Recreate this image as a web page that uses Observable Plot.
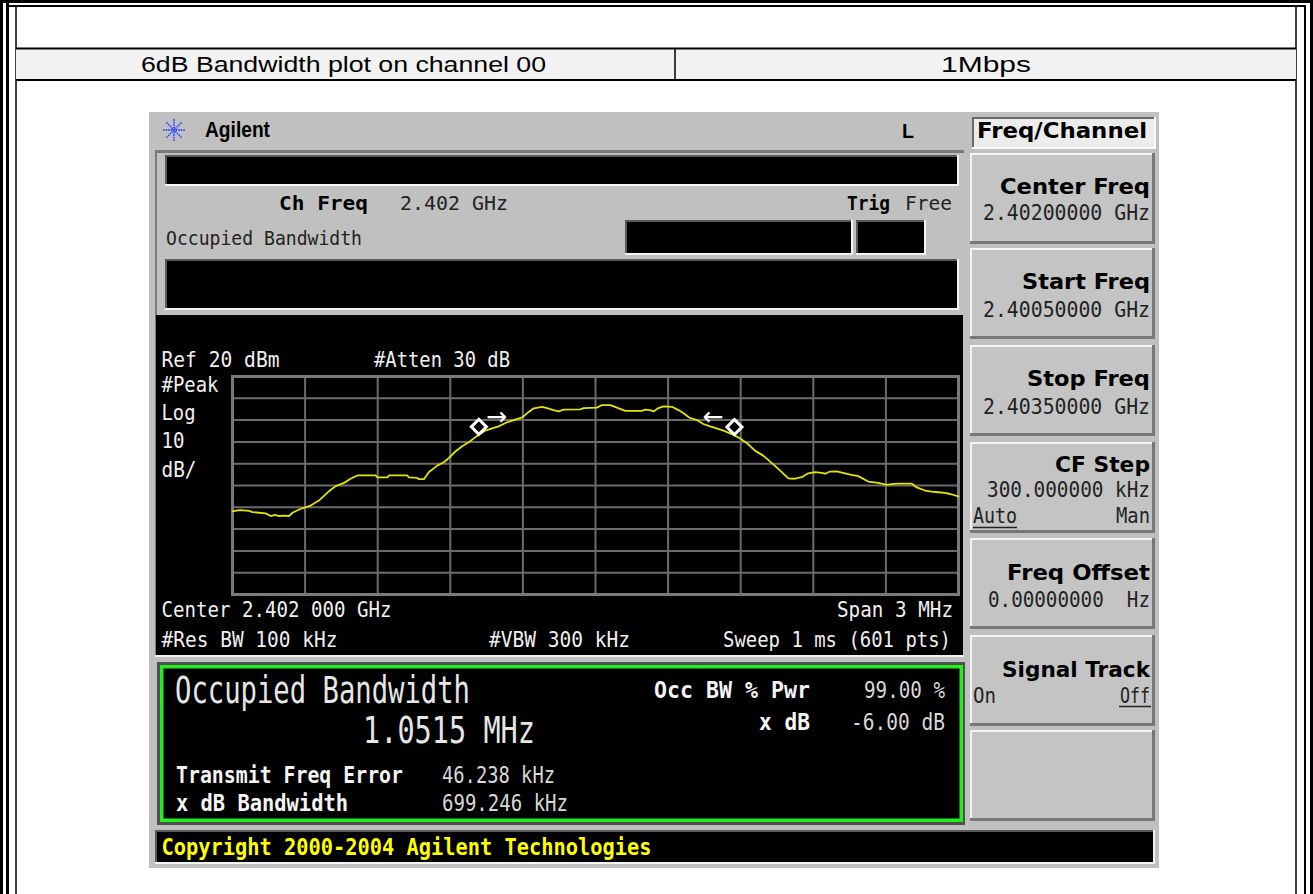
<!DOCTYPE html>
<html><head><meta charset="utf-8">
<script src="https://cdn.jsdelivr.net/npm/d3@7"></script>
<script src="https://cdn.jsdelivr.net/npm/@observablehq/plot@0.6"></script>
<style>
html,body{margin:0;padding:0;background:#fff;}
#root{position:relative;width:1313px;height:894px;overflow:hidden;background:#fff;}
#bg,#fg{position:absolute;left:0;top:0;}
#plot{position:absolute;left:156px;top:315px;}
#fg{pointer-events:none;}
</style></head><body>
<div id="root"><svg id="bg" width="1313" height="894"></svg><div id="plot"></div><svg id="fg" width="1313" height="894"></svg></div>
<script>
// ---- chart data ----
const freqMHz = [2400.500,2400.521,2400.534,2400.569,2400.583,2400.637,2400.658,2400.675,2400.692,2400.713,2400.734,2400.748,2400.775,2400.823,2400.857,2400.899,2400.926,2400.961,2400.988,2401.016,2401.091,2401.099,2401.140,2401.146,2401.222,2401.229,2401.263,2401.270,2401.291,2401.311,2401.346,2401.373,2401.387,2401.421,2401.449,2401.476,2401.504,2401.545,2401.573,2401.600,2401.628,2401.662,2401.697,2401.717,2401.745,2401.779,2401.800,2401.827,2401.848,2401.868,2401.937,2401.951,2402.006,2402.027,2402.061,2402.089,2402.123,2402.192,2402.205,2402.226,2402.240,2402.260,2402.281,2402.316,2402.343,2402.364,2402.387,2402.419,2402.446,2402.474,2402.494,2402.529,2402.563,2402.590,2402.625,2402.659,2402.693,2402.728,2402.762,2402.797,2402.824,2402.852,2402.879,2402.907,2402.935,2402.949,2402.969,2402.997,2403.031,2403.058,2403.086,2403.127,2403.168,2403.203,2403.224,2403.251,2403.306,2403.327,2403.362,2403.389,2403.416,2403.444,2403.465,2403.500];
const levelDbm = [-41.9,-41.4,-41.3,-41.6,-42.2,-42.8,-44.0,-43.5,-44.0,-43.8,-44.0,-42.5,-41.0,-39.2,-36.9,-32.6,-30.3,-28.8,-26.9,-25.4,-25.4,-26.3,-26.3,-25.4,-25.4,-26.3,-26.5,-27.1,-27.1,-23.9,-20.9,-19.3,-18.1,-14.4,-12.0,-10.2,-7.8,-4.8,-3.8,-2.9,-1.3,0.0,1.2,3.1,5.4,6.1,5.5,4.6,4.0,4.8,4.9,5.5,5.7,6.9,6.9,5.7,4.2,4.2,4.8,4.6,4.0,5.5,6.3,6.1,4.6,3.1,1.2,0.0,-1.8,-2.9,-3.6,-4.8,-6.4,-7.9,-10.5,-14.0,-16.3,-19.6,-23.1,-26.7,-26.9,-26.2,-24.4,-23.9,-24.2,-24.6,-23.6,-23.5,-24.4,-25.1,-25.7,-28.2,-28.8,-29.7,-29.4,-29.1,-29.1,-30.9,-32.3,-32.8,-33.1,-33.4,-33.9,-35.0];
const freqGridMHz = [2400.5,2400.8,2401.1,2401.4,2401.7,2402.0,2402.3,2402.6,2402.9,2403.2,2403.5];
const levelGridDbm = [20,10,0,-10,-20,-30,-40,-50,-60,-70,-80];
const markerFreqMHz = [2401.518, 2402.574];
const markerLevelDbm = [-3.1, -3.2];
const arrowFreqMHz = [2401.591, 2402.486];
const arrowLevelDbm = [1.3, 1.3];
const arrowGlyphs = ["\u2192", "\u2190"];

const trace = freqMHz.map((f, i) => ({f, dbm: levelDbm[i]}));
const markers = markerFreqMHz.map((f, i) => ({f, dbm: markerLevelDbm[i]}));
const arrows = arrowFreqMHz.map((f, i) => ({f, dbm: arrowLevelDbm[i], g: arrowGlyphs[i]}));

const MONO = "DejaVu Sans Mono";
const SANSB = "DejaVu Sans";
const ARIAL = "Liberation Sans, Arial, sans-serif";

// ---- Plot: graticule + trace ----
const chart = Plot.plot({
  width: 806, height: 340,
  marginLeft: 76, marginRight: 4, marginTop: 61, marginBottom: 61,
  style: {background: "#000", overflow: "visible"},
  x: {domain: [2400.5, 2403.5], axis: null},
  y: {domain: [-80, 20], axis: null},
  marks: [
    Plot.ruleX(freqGridMHz, {stroke: "#6b6b6b", strokeWidth: 2, strokeOpacity: 1}),
    Plot.ruleY(levelGridDbm, {stroke: "#6b6b6b", strokeWidth: 2, strokeOpacity: 1}),
    Plot.frame({stroke: "#7a7a7a", strokeWidth: 3}),
    Plot.line(trace, {x: "f", y: "dbm", stroke: "#e4e400", strokeWidth: 1.8}),
    Plot.dot(markers, {x: "f", y: "dbm", symbol: "diamond2", r: 6.8, stroke: "#fff", strokeWidth: 3, fill: "#000"}),
    Plot.text(arrows, {x: "f", y: "dbm", text: "g", fill: "#fff", fontSize: 25, fontFamily: "DejaVu Sans"})
  ]
});
document.getElementById("plot").appendChild(chart);

// ---- background drawing ----
const bg = d3.select("#bg");
function rect(x, y, w, h, fill) { return bg.append("rect").attr("x", x).attr("y", y).attr("width", w).attr("height", h).attr("fill", fill); }
function hl(x1, x2, y, c, w) { bg.append("line").attr("x1", x1).attr("x2", x2).attr("y1", y).attr("y2", y).attr("stroke", c).attr("stroke-width", w); }
function vl(x, y1, y2, c, w) { bg.append("line").attr("x1", x).attr("x2", x).attr("y1", y1).attr("y2", y2).attr("stroke", c).attr("stroke-width", w); }
function bevelOut(x, y, w, h, fill) {
  rect(x, y, w, h, fill);
  hl(x, x + w, y + 1, "#f4f4f4", 2); vl(x + 1, y, y + h, "#f4f4f4", 2);
  hl(x, x + w, y + h - 1.5, "#777", 3); vl(x + w - 1.5, y, y + h, "#777", 3);
}
function bevelIn(x, y, w, h, fill) {
  rect(x, y, w, h, fill);
  hl(x, x + w, y + 1, "#5a5a5a", 2); vl(x + 1, y, y + h, "#5a5a5a", 2);
  hl(x, x + w, y + h - 1, "#f4f4f4", 2); vl(x + w - 1, y, y + h, "#f4f4f4", 2);
}

// document frame
rect(0, 0, 3, 894, "#000"); rect(6, 0, 3, 894, "#000");
rect(0, 0, 1313, 3, "#000"); rect(6, 5, 1300, 2, "#000");
rect(1310, 0, 3, 894, "#000"); rect(1304, 5, 2, 889, "#000");
vl(16, 7, 894, "#000", 1.5); vl(1296, 7, 894, "#000", 1.5);
// table row
rect(16, 49, 1280, 31, "#f2f2f2");
hl(16, 1296, 48.5, "#000", 2); hl(16, 1296, 80, "#000", 2);
vl(675, 48, 81, "#000", 1.5);

// analyzer screen
rect(149, 112, 1010, 756, "#c0c0c0");
// Freq/Channel title box
rect(972, 117, 184, 32, "#ececec");
hl(972, 1156, 118, "#6a6a6a", 2); vl(973, 117, 149, "#6a6a6a", 2);
hl(972, 1156, 148, "#fafafa", 2); vl(1155, 117, 149, "#fafafa", 2);
// left display panel
hl(155, 964, 151.5, "#7a7a7a", 3); vl(156, 150, 656, "#7a7a7a", 2);
bevelIn(165, 155, 794, 31, "#000");
bevelIn(625, 220, 228, 35, "#000");
bevelIn(856, 220, 70, 35, "#000");
bevelIn(165, 259, 794, 51, "#000");
rect(156, 315, 807, 340, "#000");
hl(155, 964, 656, "#f0f0f0", 2);
// results panel
rect(157, 662, 808, 163, "#505050");
rect(160, 665, 803, 157, "#000");
bg.append("rect").attr("x", 161.75).attr("y", 666.75).attr("width", 799.5).attr("height", 153.5)
  .attr("fill", "none").attr("stroke", "#22ee22").attr("stroke-width", 3.5);
// softkeys
const keyTops = [153, 248, 345, 442, 538, 635, 730];
keyTops.forEach(t => bevelOut(970, t, 185, 91, "#c4c4c4"));
// copyright bar
bevelIn(155, 830, 1000, 34, "#000");
// Agilent logo star
const star = bg.append("g").attr("transform", "translate(174,130)");
for (let a = 0; a < 8; a++) {
  const ang = a * Math.PI / 4;
  [2.5, 5, 7.5, 10].forEach(r => star.append("circle").attr("cx", r * Math.cos(ang)).attr("cy", r * Math.sin(ang)).attr("r", 0.9).attr("fill", "#2a44ff"));
}
star.append("circle").attr("r", 1.3).attr("fill", "#2a44ff");

// ---- text ----
const fg = d3.select("#fg");
function txt(s, x, y, o = {}) {
  const t = fg.append("text").attr("x", x).attr("y", y)
    .attr("font-family", o.family || MONO).attr("font-size", o.size || 20.5)
    .attr("font-weight", o.weight || "normal").attr("fill", o.fill || "#ececec")
    .attr("text-anchor", o.anchor || "start").style("white-space", "pre").text(s);
  if (o.w) t.attr("textLength", o.w).attr("lengthAdjust", "spacingAndGlyphs");
  return t;
}
// document row
txt("6dB Bandwidth plot on channel 00", 141, 71.5, {family: ARIAL, size: 22, w: 405, fill: "#000"});
txt("1Mbps", 941, 71.5, {family: ARIAL, size: 22, w: 90, fill: "#000"});
// top bar
txt("Agilent", 205, 137.3, {family: ARIAL, size: 22, weight: "bold", w: 65, fill: "#000"});
txt("L", 902, 138, {family: ARIAL, size: 21, weight: "bold", w: 12, fill: "#000"});
txt("Freq/Channel", 977, 138.3, {family: SANSB, size: 21.5, weight: "bold", w: 170, fill: "#000"});
// upper info
txt("Ch Freq", 279, 210, {size: 19, weight: "bold", w: 89, fill: "#000"});
txt("2.402 GHz", 400, 210, {size: 19, w: 108, fill: "#222"});
txt("Trig", 847, 210, {size: 19, weight: "bold", w: 43, fill: "#000"});
txt("Free", 905, 210, {size: 19, w: 47, fill: "#222"});
txt("Occupied Bandwidth", 166, 245, {size: 19.5, w: 196, fill: "#222"});
// graticule annotations
const gl = {size: 20.5, fill: "#f0f0f0"};
txt("Ref 20 dBm", 161.5, 366.7, {...gl, w: 118});
txt("#Atten 30 dB", 374, 366.7, {...gl, w: 136});
txt("#Peak", 161.5, 392.3, {...gl, w: 57});
txt("Log", 161.5, 420, {...gl, w: 34});
txt("10", 161.5, 448.3, {...gl, w: 23});
txt("dB/", 161.5, 476.7, {...gl, w: 35});
txt("Center 2.402 000 GHz", 161.5, 617, {...gl, w: 230});
txt("Span 3 MHz", 837, 617, {...gl, w: 116});
txt("#Res BW 100 kHz", 161.5, 647, {...gl, w: 176});
txt("#VBW 300 kHz", 489, 647, {...gl, w: 141});
txt("Sweep 1 ms (601 pts)", 723, 647, {...gl, w: 228});
// results
txt("Occupied Bandwidth", 175, 703.3, {size: 36.5, w: 295, fill: "#e6e6e6"});
txt("1.0515 MHz", 363, 743.3, {size: 36.5, w: 172, fill: "#e6e6e6"});
txt("Transmit Freq Error", 176, 782.7, {size: 22.5, weight: "bold", w: 227, fill: "#f4f4f4"});
txt("46.238 kHz", 442, 782.7, {size: 22.5, w: 113, fill: "#d8d8d8"});
txt("x dB Bandwidth", 176, 810.7, {size: 22.5, weight: "bold", w: 172, fill: "#f4f4f4"});
txt("699.246 kHz", 442, 810.7, {size: 22.5, w: 126, fill: "#d8d8d8"});
txt("Occ BW % Pwr", 654, 698.3, {size: 22.5, weight: "bold", w: 156, fill: "#f4f4f4"});
txt("99.00 %", 864, 698.3, {size: 22.5, w: 81, fill: "#d8d8d8"});
txt("x dB", 759, 730, {size: 22.5, weight: "bold", w: 51, fill: "#f4f4f4"});
txt("-6.00 dB", 851, 730, {size: 22.5, w: 94, fill: "#d8d8d8"});
// softkeys
const kl = {family: SANSB, size: 22, weight: "bold", fill: "#000"};
const kv = {size: 20.5, fill: "#222"};
txt("Center Freq", 1000, 193.5, {...kl, w: 150});
txt("2.40200000 GHz", 983, 220, {...kv, w: 167});
txt("Start Freq", 1022, 288.5, {...kl, w: 128});
txt("2.40050000 GHz", 983, 316.7, {...kv, w: 167});
txt("Stop Freq", 1027, 385.5, {...kl, w: 123});
txt("2.40350000 GHz", 983, 413.5, {...kv, w: 167});
txt("CF Step", 1055, 471.5, {...kl, w: 95});
txt("300.000000 kHz", 987, 496.7, {...kv, w: 163});
txt("Auto", 973, 523, {...kv, w: 44});
hl(973, 1017, 527.5, "#222", 1.5);
txt("Man", 1116, 523, {...kv, w: 34});
txt("Freq Offset", 1007, 580, {...kl, w: 143});
txt("0.00000000  Hz", 988, 606.7, {...kv, w: 162});
txt("Signal Track", 1002, 676.7, {...kl, w: 148});
txt("On", 973, 702.7, {...kv, w: 23});
txt("Off", 1120, 702.7, {...kv, w: 30});
hl(1119, 1151, 706.5, "#222", 1.5);
// copyright
txt("Copyright 2000-2004 Agilent Technologies", 161.5, 855, {size: 22.5, weight: "bold", w: 490, fill: "#ffff00"});
</script></body></html>
